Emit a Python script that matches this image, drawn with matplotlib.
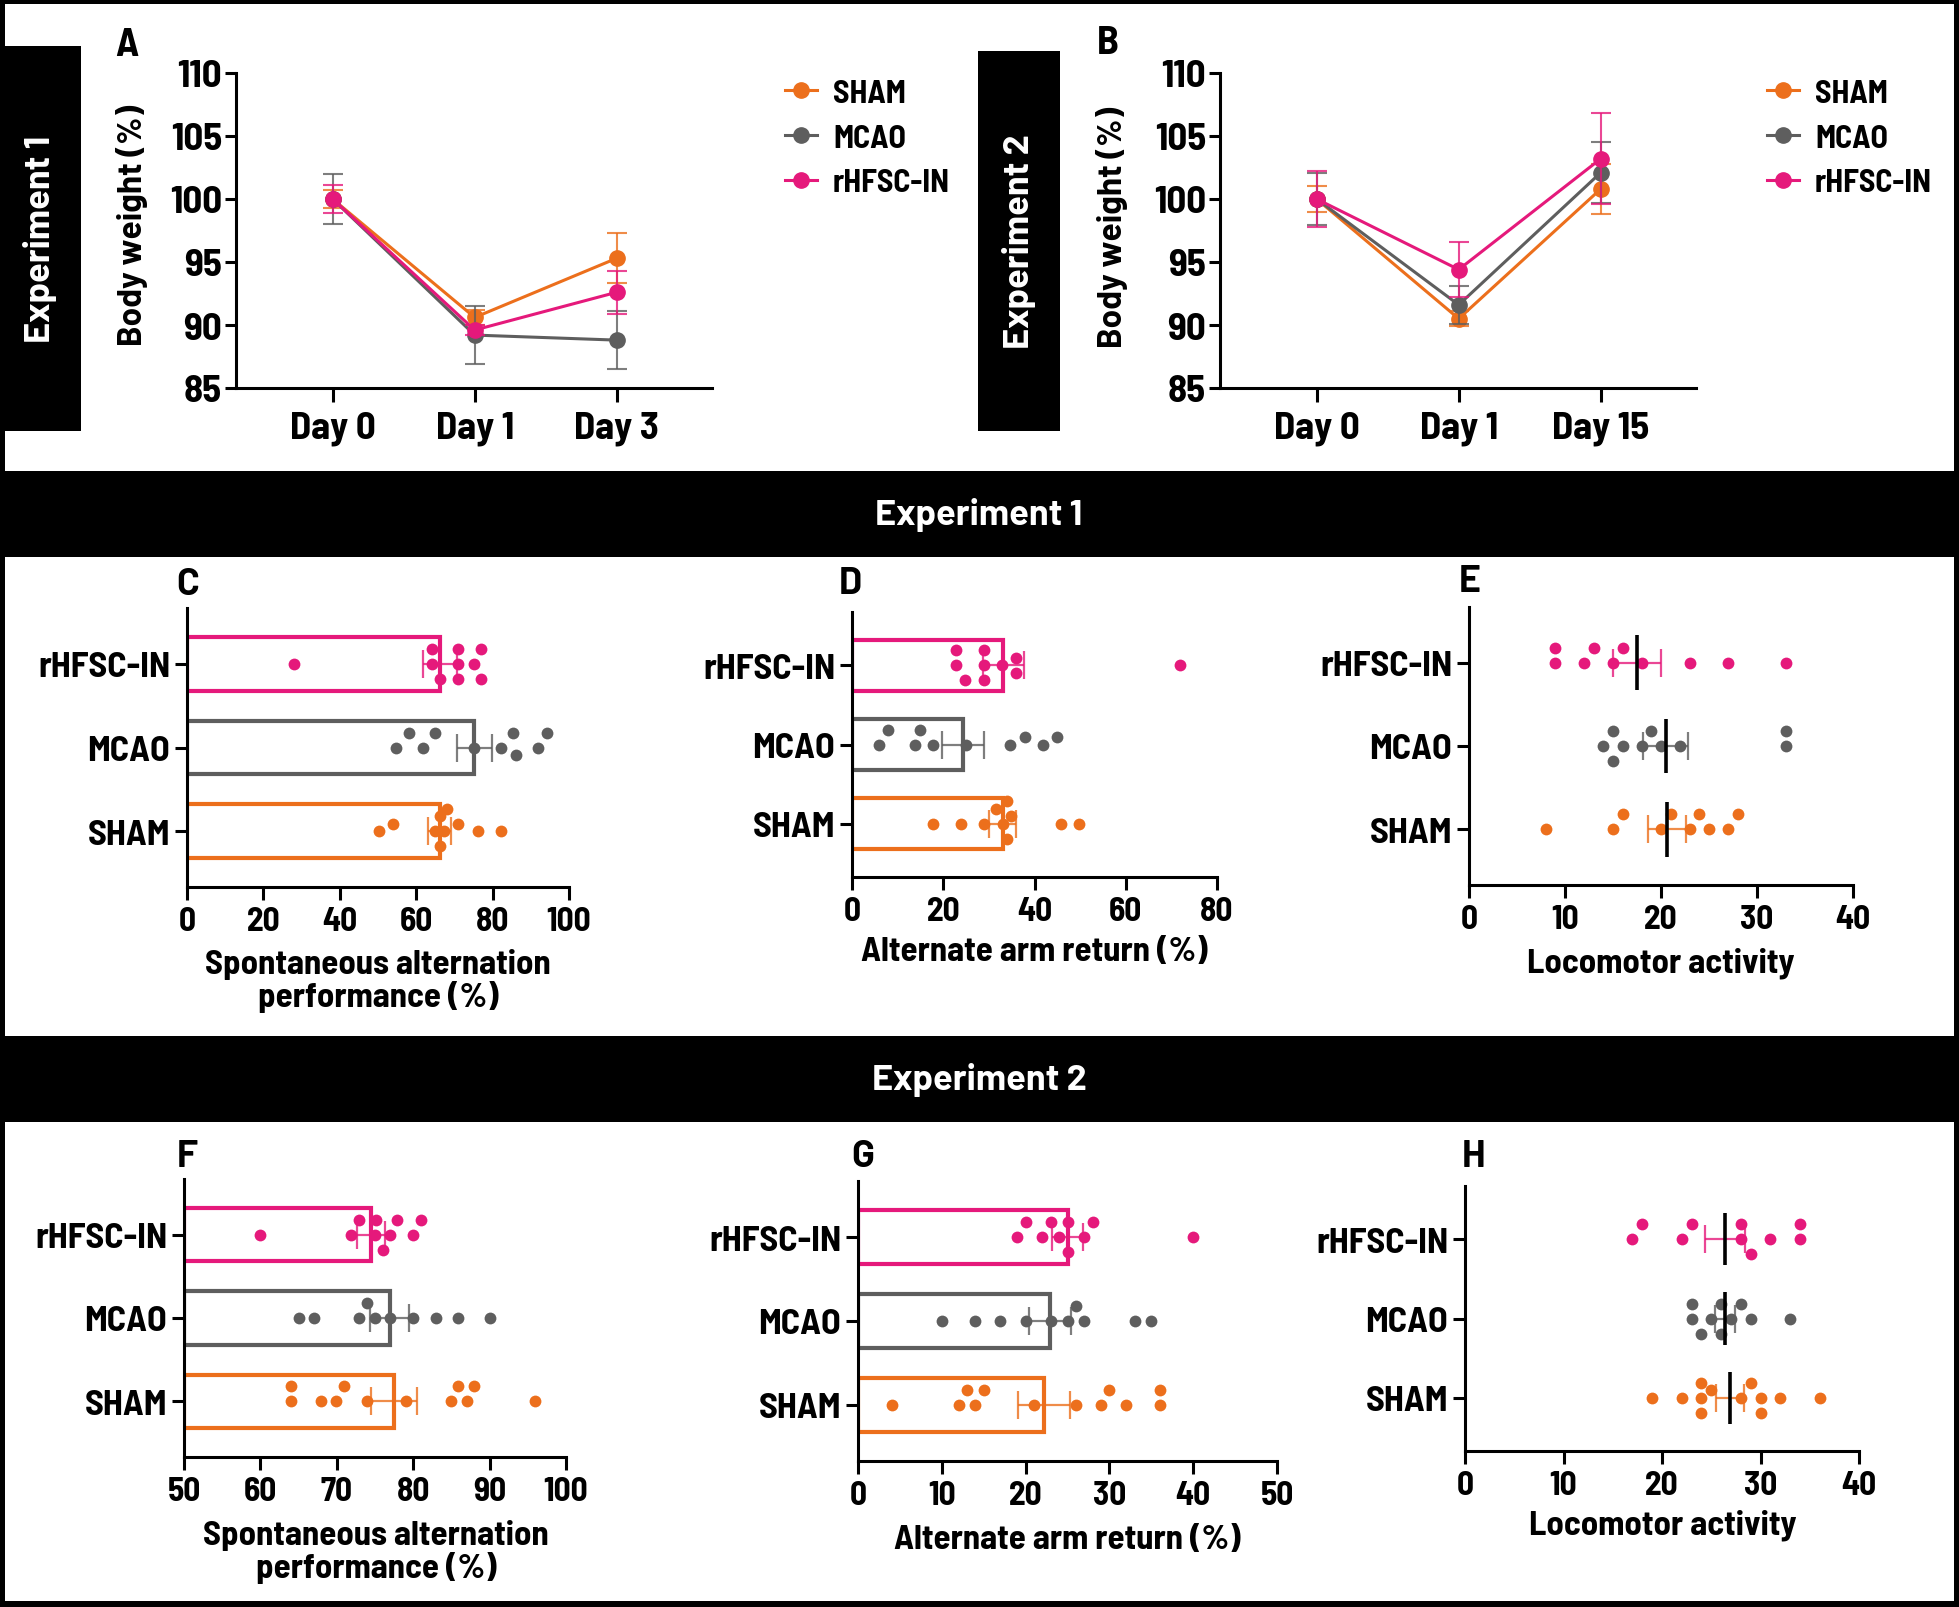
import numpy as np
import matplotlib
matplotlib.use('Agg')
import matplotlib.pyplot as plt
from matplotlib import font_manager
from matplotlib.patches import Rectangle

# ---------------- data ----------------
groups = ['SHAM', 'MCAO', 'rHFSC-IN']
colors = ['#EC6F1C', '#5E5E5E', '#E5197B']

# body weight (%), mean +- SEM
days_exp1 = ['Day 0', 'Day 1', 'Day 3']
bw1_sham = [100, 90.6, 95.3]
bw1_sham_err = [0.7, 0.6, 2.0]
bw1_mcao = [100, 89.2, 88.8]
bw1_mcao_err = [2.0, 2.3, 2.3]
bw1_rhfsc = [100, 89.6, 92.6]
bw1_rhfsc_err = [1.1, 0.4, 1.7]

days_exp2 = ['Day 0', 'Day 1', 'Day 15']
bw2_sham = [100, 90.5, 100.8]
bw2_sham_err = [1.0, 0.6, 2.0]
bw2_mcao = [100, 91.6, 102.1]
bw2_mcao_err = [2.1, 1.5, 2.4]
bw2_rhfsc = [100, 94.4, 103.2]
bw2_rhfsc_err = [2.2, 2.2, 3.6]

# experiment 1 - spontaneous alternation (%)
c_sham = [50.2, 54.0, 64.8, 66.2, 66.2, 67.4, 68.0, 71.0, 76.2, 82.2]
c_mcao = [54.8, 58.1, 61.9, 65.0, 75.2, 82.2, 85.3, 86.0, 91.9, 94.3]
c_rhfsc = [27.9, 64.1, 64.1, 66.2, 71.0, 71.0, 71.0, 75.2, 77.0, 77.0]
c_mean = [66.2, 75.2, 66.2]
c_sem = [3.0, 4.6, 4.5]

# experiment 1 - alternate arm return (%)
d_sham = [17.8, 23.8, 28.9, 31.6, 33.2, 34.0, 34.0, 34.9, 45.9, 49.8]
d_mcao = [5.9, 7.8, 13.9, 14.9, 17.8, 25.0, 34.7, 37.9, 41.9, 44.9]
d_rhfsc = [22.8, 22.8, 24.7, 28.9, 28.9, 28.9, 32.9, 36.0, 36.0, 71.9]
d_mean = [33.0, 24.3, 33.2]
d_sem = [3.0, 4.6, 4.5]

# experiment 1 - locomotor activity
e_sham = [8, 15, 16, 20, 21, 23, 24, 25, 27, 28]
e_mcao = [14, 15, 15, 16, 18, 19, 20, 22, 33, 33]
e_rhfsc = [9, 9, 12, 13, 15, 16, 18, 23, 27, 33]
e_mean = [20.6, 20.5, 17.5]
e_sem = [2.0, 2.35, 2.5]

# experiment 2 - spontaneous alternation (%)
f_sham = [64.0, 64.0, 67.9, 69.9, 70.9, 73.9, 79.0, 84.9, 85.9, 87.0, 88.0, 96.0]
f_mcao = [65.0, 67.0, 72.9, 73.9, 75.0, 77.0, 80.0, 83.0, 85.9, 90.0]
f_rhfsc = [59.9, 71.9, 72.9, 75.0, 75.1, 76.0, 77.0, 77.9, 80.0, 81.0]
f_mean = [77.5, 76.9, 74.5]
f_sem = [3.05, 2.6, 1.85]

# experiment 2 - alternate arm return (%)
g_sham = [4, 12, 13, 14, 15, 21, 26, 29, 30, 32, 36, 36]
g_mcao = [10, 14, 17, 20, 23, 25, 26, 27, 33, 35]
g_rhfsc = [19, 20, 22, 23, 24, 25, 25, 27, 28, 40]
g_mean = [22.2, 22.9, 25.0]
g_sem = [3.15, 2.5, 1.85]

# experiment 2 - locomotor activity
h_sham = [19, 22, 24, 24, 24, 25, 28, 29, 30, 30, 32, 36]
h_mcao = [23, 23, 24, 25, 26, 26, 27, 28, 29, 33]
h_rhfsc = [17, 18, 22, 23, 28, 28, 29, 31, 34, 34]
h_mean = [26.9, 26.4, 26.4]
h_sem = [1.45, 1.0, 2.0]


# ---------------- fonts ----------------
def pick_bold(cands):
    # first family that really has a static bold face
    for cand in cands:
        for f in font_manager.fontManager.ttflist:
            w = f.weight if isinstance(f.weight, int) else font_manager.weight_dict.get(f.weight, 400)
            if f.name == cand and w >= 650 and f.style == 'normal':
                return [cand, 'DejaVu Sans']
    return ['DejaVu Sans']


NARROW = pick_bold(['Barlow Semi Condensed', 'Archivo Narrow', 'Asap Condensed', 'Barlow Condensed'])
LABEL = pick_bold(['Barlow', 'Barlow Semi Condensed', 'Lato'])

# ---------------- layout helpers ----------------
W, H = 1959, 1608
fig = plt.figure(figsize=(W / 100, H / 100), dpi=100, facecolor='black')


def fr(x0, y0, x1, y1):
    return [x0 / W, 1 - y1 / H, (x1 - x0) / W, (y1 - y0) / H]


def ftext(x, y, s, **kw):
    fig.text(x / W, 1 - y / H, s, ha='center', va='center', **kw)


def frect(x0, y0, x1, y1, color):
    fig.add_artist(Rectangle((x0 / W, 1 - y1 / H), (x1 - x0) / W, (y1 - y0) / H,
                             transform=fig.transFigure, facecolor=color,
                             edgecolor='none', zorder=0))


# white sections and black bands
frect(5, 5, 1954, 472, 'white')
frect(5, 558, 1954, 1037, 'white')
frect(5, 1123, 1954, 1602, 'white')
ftext(979, 515, 'Experiment 1', color='white', fontsize=26, fontweight='bold', family=LABEL)
ftext(979, 1080, 'Experiment 2', color='white', fontsize=26, fontweight='bold', family=LABEL)


def style(ax):
    for s in ['top', 'right']:
        ax.spines[s].set_visible(False)
    for s in ['left', 'bottom']:
        ax.spines[s].set_linewidth(2.2)
    ax.tick_params(direction='out', length=8, width=2.2)
    ax.set_facecolor('none')


def line_panel(box, days, series, errs, letter, lbox, leg_x):
    ax = fig.add_axes(fr(*box))
    style(ax)
    x = np.arange(len(days))
    order = [1, 2, 0]
    handles = {}
    for i in order:
        ln, caps, bars = ax.errorbar(x, series[i], yerr=errs[i], color=colors[i], marker='o',
                                     ms=11, lw=2.2, elinewidth=1.5, capsize=7, capthick=1.5,
                                     zorder=3 + i)
        for b in bars:
            b.set_alpha(0.8)
        for c in caps:
            c.set_alpha(0.8)
        handles[i] = ln
    ax.set_xlim(-0.68, 2.67)
    ax.set_ylim(85, 110)
    ax.set_yticks([85, 90, 95, 100, 105, 110], labels=['85', '90', '95', '100', '105', '110'],
                  fontsize=28, fontweight='bold', family=NARROW)
    ax.set_xticks(x, labels=days, fontsize=28, fontweight='bold', family=NARROW)
    ax.tick_params(axis='y', pad=2)
    ax.tick_params(axis='x', length=10, pad=6)
    ax.legend([handles[i] for i in range(3)], groups, loc='center left',
              bbox_to_anchor=(leg_x / W, 1 - 139 / H), bbox_transform=fig.transFigure,
              frameon=False, borderpad=0, borderaxespad=0, handlelength=1.0,
              handletextpad=0.5, labelspacing=0.5,
              prop={'family': NARROW, 'weight': 'bold', 'size': 23})
    # side box
    bx0, by0, bx1, by1, txt = lbox
    frect(bx0, by0, bx1, by1, 'black')
    ftext((bx0 + bx1) / 2, (by0 + by1) / 2, txt, color='white', rotation=90,
          fontsize=26, fontweight='bold', family=LABEL)
    ftext(*letter, fontsize=29, fontweight='bold', family=NARROW)
    return ax


def swarm_offsets(vals, ppx, ppy, diam=15.0, step=7.5, max_k=3):
    xs = np.asarray(vals, float) * ppx
    ys = np.zeros(len(xs))
    done = []
    for i in np.argsort(xs, kind='stable'):
        cands = [0.0]
        for k in range(1, max_k + 1):
            cands += [k * step, -k * step]
        best, best_d = 0.0, -1.0
        for c in cands:
            d = min([np.hypot(xs[i] - xs[j], c - ys[j]) for j in done] + [1e9])
            if d >= diam:
                best = c
                break
            if d > best_d:
                best, best_d = c, d
        ys[i] = best
        done.append(i)
    return ys / ppy


def dot_panel(box, xlim, xticks, vals, means, sems, xlabel, xlab_pos, letter, bars=True):
    ax = fig.add_axes(fr(*box))
    style(ax)
    ylim = (-0.67, 2.67)
    ax.set_xlim(xlim)
    ax.set_ylim(ylim)
    ppx = (box[2] - box[0]) / (xlim[1] - xlim[0])
    ppy = (box[3] - box[1]) / (ylim[1] - ylim[0])
    for i in range(3):
        c = colors[i]
        if bars:
            ax.barh(i, means[i] - xlim[0], left=xlim[0], height=0.64, facecolor='white',
                    edgecolor=c, linewidth=3, zorder=1)
        off = swarm_offsets(vals[i], ppx, ppy)
        ax.plot(vals[i], i + off, 'o', ms=8.5, color=c, mec='none', zorder=3, clip_on=False)
        ax.errorbar(means[i], i, xerr=sems[i], fmt='none', ecolor=c, elinewidth=1.6,
                    capsize=10, capthick=1.6, zorder=4, alpha=0.8)
        if not bars:
            ax.vlines(means[i], i - 0.33, i + 0.33, color='black', lw=2.6, zorder=5)
    ax.set_xticks(xticks, labels=[str(t) for t in xticks], fontsize=24, fontweight='bold',
                  family=NARROW)
    ax.set_yticks(range(3), labels=groups, fontsize=26, fontweight='bold', family=NARROW)
    ax.tick_params(axis='x', length=9, pad=5)
    ax.tick_params(axis='y', length=9, pad=3)
    ftext(*xlab_pos, xlabel, fontsize=25, fontweight='bold', family=NARROW, linespacing=1.05)
    ftext(*letter, fontsize=27, fontweight='bold', family=LABEL)
    return ax


# ---------------- panels ----------------
line_panel((236, 74, 712, 389), days_exp1, [bw1_sham, bw1_mcao, bw1_rhfsc],
           [bw1_sham_err, bw1_mcao_err, bw1_rhfsc_err], (127, 46, 'A'),
           (0, 47, 81, 432, 'Experiment 1'), 785)
ftext(132, 225, 'Body weight (%)', rotation=90, fontsize=24, fontweight='bold', family=LABEL)

line_panel((1220, 74, 1696, 389), days_exp2, [bw2_sham, bw2_mcao, bw2_rhfsc],
           [bw2_sham_err, bw2_mcao_err, bw2_rhfsc_err], (1108, 43, 'B'),
           (978, 52, 1060, 432, 'Experiment 2'), 1767)
ftext(1112, 227, 'Body weight (%)', rotation=90, fontsize=24, fontweight='bold', family=LABEL)

dot_panel((187, 609, 569, 888), (0, 100), [0, 20, 40, 60, 80, 100],
          [c_sham, c_mcao, c_rhfsc], c_mean, c_sem,
          'Spontaneous alternation\nperformance (%)', (378, 981), (188, 585, 'C'))
dot_panel((852, 613, 1217, 878), (0, 80), [0, 20, 40, 60, 80],
          [d_sham, d_mcao, d_rhfsc], d_mean, d_sem,
          'Alternate arm return (%)', (1034, 952), (850, 584, 'D'))
dot_panel((1469, 608, 1853, 886), (0, 40), [0, 10, 20, 30, 40],
          [e_sham, e_mcao, e_rhfsc], e_mean, e_sem,
          'Locomotor activity', (1661, 963), (1470, 582, 'E'), bars=False)

dot_panel((184, 1180, 566, 1458), (50, 100), [50, 60, 70, 80, 90, 100],
          [f_sham, f_mcao, f_rhfsc], f_mean, f_sem,
          'Spontaneous alternation\nperformance (%)', (376, 1552), (187, 1157, 'F'))
dot_panel((858, 1182, 1277, 1462), (0, 50), [0, 10, 20, 30, 40, 50],
          [g_sham, g_mcao, g_rhfsc], g_mean, g_sem,
          'Alternate arm return (%)', (1067, 1540), (863, 1157, 'G'))
dot_panel((1465, 1187, 1859, 1452), (0, 40), [0, 10, 20, 30, 40],
          [h_sham, h_mcao, h_rhfsc], h_mean, h_sem,
          'Locomotor activity', (1663, 1525), (1474, 1157, 'H'), bars=False)

plt.savefig('out.png', dpi=100, facecolor='black')
